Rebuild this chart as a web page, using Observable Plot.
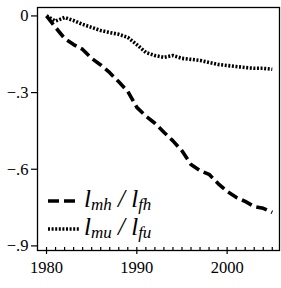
<!DOCTYPE html>
<html>
<head>
<meta charset="utf-8">
<script src="https://cdn.jsdelivr.net/npm/d3@7"></script>
<script src="https://cdn.jsdelivr.net/npm/@observablehq/plot@0.6"></script>
<style>
  html, body { margin: 0; padding: 0; background: #fff; }
  #chart { width: 281px; height: 288px; }
  #chart svg, #chart svg text { font-family: "Liberation Serif", "Times New Roman", serif !important; }
</style>
</head>
<body>
<div id="chart"></div>
<script>
const years = d3.range(1980, 2006);
const seriesMH = [0, -0.045, -0.088, -0.112, -0.131, -0.166, -0.192, -0.222, -0.258, -0.295,
  -0.358, -0.392, -0.420, -0.455, -0.489, -0.528, -0.581, -0.605, -0.620, -0.656,
  -0.687, -0.710, -0.726, -0.746, -0.753, -0.769];
const seriesMU = [0, -0.020, -0.006, -0.018, -0.033, -0.045, -0.057, -0.065, -0.072, -0.084,
  -0.112, -0.143, -0.155, -0.162, -0.155, -0.166, -0.170, -0.174, -0.182, -0.190,
  -0.194, -0.198, -0.202, -0.205, -0.205, -0.209];
const xMajor = [1980, 1990, 2000];
const yTicks = [0, -0.3, -0.6, -0.9];
const yTickLabels = ["0", "\u2212.3", "\u2212.6", "\u2212.9"];
const legendItems = [
  {sub1: "mh", sub2: "fh", dash: "11,5"},
  {sub1: "mu", sub2: "fu", dash: "2,1.6"}
];

const rowsMH = years.map((y, i) => ({year: y, v: seriesMH[i]}));
const rowsMU = years.map((y, i) => ({year: y, v: seriesMU[i]}));

const font = "Liberation Serif";

const plot = Plot.plot({
  width: 281,
  height: 288,
  marginLeft: 37,
  marginRight: 2,
  marginTop: 7,
  marginBottom: 38,
  style: {fontFamily: font, fontSize: "16px", background: "#fff", color: "#000"},
  x: {domain: [1979, 2005.8]},
  y: {domain: [-0.918, 0.033]},
  marks: [
    Plot.frame({stroke: "#000", strokeWidth: 1.3}),
    Plot.axisX({ticks: years, tickSize: -3, tickFormat: () => "", strokeWidth: 1.2, label: null}),
    Plot.axisX({ticks: xMajor, tickSize: 4, tickPadding: 7, tickFormat: d => String(d), fontSize: 16.5, fontFamily: font, strokeWidth: 1.2, label: null}),
    Plot.axisY({ticks: yTicks, tickSize: 6, tickPadding: 3, tickFormat: d => yTickLabels[yTicks.indexOf(d)], fontSize: 16.5, fontFamily: font, strokeWidth: 1.2, label: null}),
    Plot.lineY(rowsMH, {x: "year", y: "v", stroke: "#000", strokeWidth: 3.6, strokeDasharray: "11,5", strokeLinecap: "butt", strokeLinejoin: "miter", curve: "linear"}),
    Plot.lineY(rowsMU, {x: "year", y: "v", stroke: "#000", strokeWidth: 3.6, strokeDasharray: "2,1.6", strokeLinecap: "butt", strokeLinejoin: "miter", curve: "linear"})
  ]
});
document.getElementById("chart").appendChild(plot);

// legend inside the frame
const svg = d3.select(plot);
const g = svg.append("g").attr("font-family", font).attr("text-anchor", "start");
legendItems.forEach((it, i) => {
  const cy = 201 + i * 28;
  g.append("line").attr("x1", 48).attr("x2", 80).attr("y1", cy).attr("y2", cy)
    .attr("stroke", "#000").attr("stroke-width", 3.6).attr("stroke-dasharray", it.dash);
  const t = g.append("text").attr("x", 84).attr("y", cy + 6).attr("text-anchor", "start")
    .attr("font-style", "italic").attr("font-size", 25).attr("fill", "#000");
  t.append("tspan").text("l");
  t.append("tspan").attr("font-size", 17).attr("dy", 3).text(it.sub1);
  t.append("tspan").attr("dy", -3).text(" / l");
  t.append("tspan").attr("font-size", 17).attr("dy", 3).text(it.sub2);
});
</script>
</body>
</html>
